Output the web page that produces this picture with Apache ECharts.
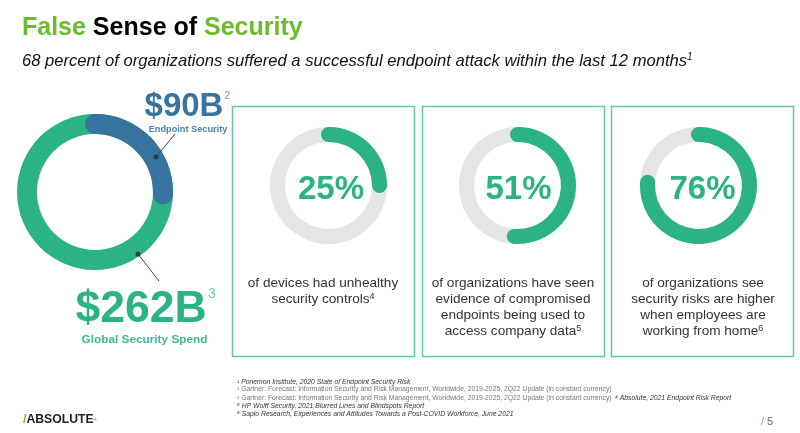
<!DOCTYPE html>
<html><head><meta charset="utf-8">
<style>html,body{margin:0;padding:0;background:#fff}#c{width:800px;height:433px}</style>
<script src="https://cdn.jsdelivr.net/npm/echarts@6/dist/echarts.min.js"></script>
</head><body><div id="c"></div>
<script>
const spendLabels = ['Endpoint Security', 'Global Security Spend'];
const spendValues = [90, 262];
const percentValues = [25, 51, 76];
const cardTexts = [
  ['of devices had unhealthy', 'security controls{s|4}'],
  ['of organizations have seen', 'evidence of compromised', 'endpoints being used to', 'access company data{s|5}'],
  ['of organizations see', 'security risks are higher', 'when employees are', 'working from home{s|6}']
];
const footnotes = [
  '{i|¹ Ponemon Institute, 2020 State of Endpoint Security Risk}',
  '{n|² Gartner: Forecast: Information Security and Risk Management, Worldwide, 2019-2025, 2Q22 Update (in constant currency)}',
  '{n|³ Gartner: Forecast: Information Security and Risk Management, Worldwide, 2019-2025, 2Q22 Update (in constant currency)} {i|⁴ Absolute, 2021 Endpoint Risk Report}',
  '{i|⁵ HP Wolff Security, 2021 Blurred Lines and Blindspots Report}',
  '{i|⁶ Sapio Research, Experiences and Attitudes Towards a Post-COVID Workforce, June 2021}'
];

const FONT = '"Liberation Sans", Arial, sans-serif';
const GREEN = '#2bb383', BLUE = '#38749d', GREY = '#e5e5e5', LIME = '#6cbd2a', BOX = '#5fc9a6';

function donut(value, max, cx, cy, r, w, track, color, labelDx) {
  return {
    type: 'gauge', center: [cx, cy], radius: r, startAngle: 90, endAngle: -270,
    min: 0, max: max, animation: false, silent: true,
    pointer: { show: false }, axisTick: { show: false }, splitLine: { show: false }, axisLabel: { show: false },
    axisLine: { lineStyle: { width: w, color: [[1, track]] } },
    progress: { show: true, width: w, roundCap: true, itemStyle: { color: color } },
    title: { show: false },
    detail: labelDx !== undefined ? {
      show: true, valueAnimation: false, offsetCenter: [labelDx, 4], formatter: '{value}%',
      fontFamily: FONT, fontWeight: 'bold', fontSize: 33, color: GREEN
    } : { show: false },
    data: [{ value: value }]
  };
}

const g = [];
function text(x, y, t, size, color, opt) {
  g.push({ type: 'text', x: x, y: y, z: 100, silent: true, style: Object.assign({
    text: t, font: (opt && opt.fw || 'normal') + ' ' + size + 'px ' + FONT, fill: color,
    textAlign: (opt && opt.align) || 'left', textVerticalAlign: 'middle'
  }, opt && opt.style) });
}

// title
g.push({ type: 'text', x: 22, y: 28, z: 100, silent: true, style: {
  text: '{a|False }{b|Sense of }{a|Security}', textVerticalAlign: 'middle',
  rich: {
    a: { fontFamily: FONT, fontWeight: 'bold', fontSize: 25, color: LIME, fill: LIME },
    b: { fontFamily: FONT, fontWeight: 'bold', fontSize: 25, color: '#000', fill: '#000' }
  }
}});
g.push({ type: 'text', x: 22, y: 61, z: 100, silent: true, style: {
  text: '{t|68 percent of organizations suffered a successful endpoint attack within the last 12 months}{s|1}',
  textVerticalAlign: 'middle',
  rich: {
    t: { fontFamily: FONT, fontStyle: 'italic', fontSize: 16.6, color: '#111', fill: '#111' },
    s: { fontFamily: FONT, fontStyle: 'italic', fontSize: 10, color: '#111', fill: '#111', verticalAlign: 'top', lineHeight: 18 }
  }
}});

// cards
[[232, 182], [422, 182], [611, 182]].forEach(function (b, i) {
  g.push({ type: 'rect', z: 100, silent: true, shape: { x: b[0] + .5, y: 106.5, width: b[1], height: 250 },
    style: { fill: 'none', stroke: BOX, lineWidth: 1.5 } });
  const cx = b[0] + 91;
  cardTexts[i].forEach(function (line, j) {
    g.push({ type: 'text', x: i === 2 ? cx + 1 : cx, y: 283 + j * 16 + (i === 2 ? 0.5 : 0), z: 100, silent: true, style: {
      text: '{t|' + line.replace(/\{s\|(\d)\}/, '}{s|$1}') + (/\{s\|/.test(line) ? '' : '}'),
      textAlign: 'center', textVerticalAlign: 'middle',
      rich: {
        t: { fontFamily: FONT, fontSize: 13.6, color: '#333', fill: '#333' },
        s: { fontFamily: FONT, fontSize: 9, color: '#333', fill: '#333', verticalAlign: 'top', lineHeight: 12 }
      }
    }});
  });
});

// big donut annotation
text(184, 107, '$' + spendValues[0] + 'B', 33, BLUE, { fw: 'bold', align: 'center' });
text(224.5, 96, '2', 10, '#6f9dbd');
text(188, 129, spendLabels[0], 9.2, '#4a82a8', { fw: 'bold', align: 'center' });
text(141, 310, '$' + spendValues[1] + 'B', 44.5, GREEN, { fw: 'bold', align: 'center' });
text(208, 294, '3', 14, '#6fcaa9');
text(144.5, 339.5, spendLabels[1], 11.8, '#3fba8e', { fw: 'bold', align: 'center' });
[[156, 157, 175, 134], [138, 254, 159, 281]].forEach(function (l) {
  g.push({ type: 'line', z: 100, silent: true, shape: { x1: l[0], y1: l[1], x2: l[2], y2: l[3] }, style: { stroke: '#444', lineWidth: 1 } });
  g.push({ type: 'circle', z: 101, silent: true, shape: { cx: l[0], cy: l[1], r: 2.5 }, style: { fill: '#2f3b3b' } });
});

// footnotes
const fy = [382, 389.5, 398.5, 406, 414];
footnotes.forEach(function (f, i) {
  g.push({ type: 'text', x: 237, y: fy[i], z: 100, silent: true, style: {
    text: f, textVerticalAlign: 'middle',
    rich: {
      i: { fontFamily: FONT, fontStyle: 'italic', fontSize: 6.8, color: '#333', fill: '#333' },
      n: { fontFamily: FONT, fontSize: 6.8, color: '#777', fill: '#777' }
    }
  }});
});

// logo + page number
g.push({ type: 'text', x: 23, y: 420, z: 100, silent: true, style: {
  text: '{a|/}{b|ABSOLUTE}{c|®}', textVerticalAlign: 'middle',
  rich: {
    a: { fontFamily: FONT, fontWeight: 'bold', fontSize: 12.5, color: LIME, fill: LIME },
    b: { fontFamily: FONT, fontWeight: 'bold', fontSize: 12.2, color: '#222', fill: '#222' },
    c: { fontFamily: FONT, fontSize: 4, color: '#222', fill: '#222' }
  }
}});
g.push({ type: 'text', x: 761, y: 422, z: 100, silent: true, style: {
  text: '{a|/ }{b|5}', textVerticalAlign: 'middle',
  rich: {
    a: { fontFamily: FONT, fontSize: 11, color: LIME, fill: LIME },
    b: { fontFamily: FONT, fontSize: 11, color: '#666', fill: '#666' }
  }
}});

const total = spendValues[0] + spendValues[1];
const chart = echarts.init(document.getElementById('c'), null, { renderer: 'canvas' });
chart.setOption({
  animation: false,
  backgroundColor: '#fff',
  graphic: { elements: g },
  series: [
    donut(spendValues[0], total, 95, 192, 78, 20, GREEN, BLUE),
    donut(percentValues[0], 100, 328.5, 185.5, 58.5, 15, GREY, GREEN, 2.5),
    donut(percentValues[1], 100, 517.5, 185.5, 58.5, 15, GREY, GREEN, 1),
    donut(percentValues[2], 100, 698.5, 185.5, 58.5, 15, GREY, GREEN, 4)
  ]
});
</script></body></html>
